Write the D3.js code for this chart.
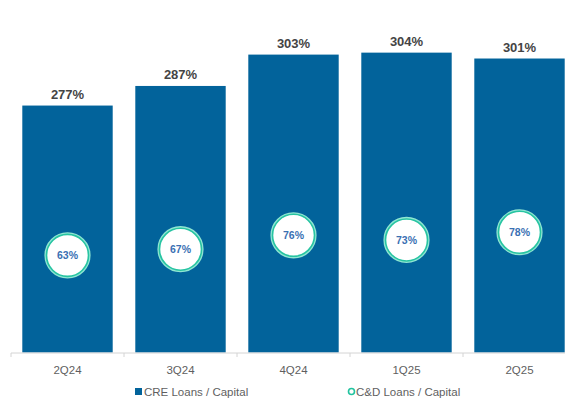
<!DOCTYPE html>
<html>
<head>
<meta charset="utf-8">
<script src="https://cdn.jsdelivr.net/npm/d3@7"></script>
<style>
  html, body { margin: 0; padding: 0; background: #ffffff; }
  svg { display: block; }
</style>
</head>
<body>
<svg id="chart" width="565" height="402"></svg>
<script>
// Quarterly concentration ratios
const quarters = ["2Q24", "3Q24", "4Q24", "1Q25", "2Q25"];
const creToCapital = [277, 287, 303, 304, 301];   // bars, left axis
const cdToCapital = [63, 67, 76, 73, 78];         // circles, right axis
const legendLabels = ["CRE Loans / Capital", "C&D Loans / Capital"];

const W = 565, H = 402;
const baseY = 352.5, topY = 5.6;
const svg = d3.select("#chart");

const x = d3.scaleBand()
  .domain(quarters)
  .range([11, 576])
  .paddingInner(0.2)
  .paddingOuter(0.1);

// left axis is truncated near 150%
const y = d3.scaleLinear().domain([151, 328]).range([baseY, topY]);
// secondary axis for the C&D ratio
const y2 = d3.scaleLinear().domain([0, 225]).range([baseY, topY]);

const defs = svg.append("defs");
const glow = defs.append("filter").attr("id", "ringGlow")
  .attr("x", "-30%").attr("y", "-30%").attr("width", "160%").attr("height", "160%");
glow.append("feGaussianBlur").attr("stdDeviation", 0.7);

// bars
svg.append("g").selectAll("rect")
  .data(quarters)
  .join("rect")
  .attr("x", d => x(d))
  .attr("width", x.bandwidth())
  .attr("y", (d, i) => y(creToCapital[i]))
  .attr("height", (d, i) => baseY - y(creToCapital[i]))
  .attr("fill", "#02639b");

// value labels above bars
svg.append("g").selectAll("text")
  .data(quarters)
  .join("text")
  .attr("x", d => x(d) + x.bandwidth() / 2)
  .attr("y", (d, i) => y(creToCapital[i]) - 6.5)
  .attr("text-anchor", "middle")
  .attr("font-family", "'Liberation Sans', Arial, sans-serif")
  .attr("font-weight", "bold")
  .attr("font-size", "13px")
  .attr("fill", "#444444")
  .text((d, i) => creToCapital[i] + "%");

// category axis
const axis = svg.append("g").attr("transform", `translate(0,${baseY})`);
axis.append("line")
  .attr("x1", 11).attr("x2", W)
  .attr("y1", 0.5).attr("y2", 0.5)
  .attr("stroke", "#d4d4d4").attr("stroke-width", 1);
const bounds = quarters.map(q => x(q) - x.step() * x.paddingInner() / 2);
axis.selectAll("line.tick")
  .data(bounds)
  .join("line")
  .attr("class", "tick")
  .attr("x1", d => d).attr("x2", d => d)
  .attr("y1", 0.5).attr("y2", 4.5)
  .attr("stroke", "#d4d4d4");
axis.selectAll("text")
  .data(quarters)
  .join("text")
  .attr("x", d => x(d) + x.bandwidth() / 2)
  .attr("y", 21)
  .attr("text-anchor", "middle")
  .attr("font-family", "'Liberation Sans', Arial, sans-serif")
  .attr("font-size", "11.5px")
  .attr("fill", "#5f5f5f")
  .text(d => d);

// C&D ratio markers
const marks = svg.append("g").selectAll("g")
  .data(quarters)
  .join("g")
  .attr("transform", (d, i) => `translate(${x(d) + x.bandwidth() / 2},${y2(cdToCapital[i])})`);
marks.append("circle")
  .attr("r", 21.8)
  .attr("fill", "none")
  .attr("stroke", "#8fe6d2")
  .attr("stroke-width", 2.6)
  .attr("filter", "url(#ringGlow)");
marks.append("circle")
  .attr("r", 21)
  .attr("fill", "#ffffff")
  .attr("stroke", "#27c4a2")
  .attr("stroke-width", 1.6);
marks.append("text")
  .attr("y", 3.6)
  .attr("text-anchor", "middle")
  .attr("font-family", "'Liberation Sans', Arial, sans-serif")
  .attr("font-weight", "bold")
  .attr("font-size", "10.5px")
  .attr("fill", "#3a70b3")
  .text((d, i) => cdToCapital[i] + "%");

// legend
const legend = svg.append("g").attr("font-family", "'Liberation Sans', Arial, sans-serif")
  .attr("font-size", "11.5px").attr("fill", "#5f5f5f");
legend.append("rect")
  .attr("x", 135).attr("y", 388).attr("width", 7).attr("height", 7)
  .attr("fill", "#02639b");
legend.append("text").attr("x", 144).attr("y", 396).text(legendLabels[0]);
legend.append("circle")
  .attr("cx", 351.5).attr("cy", 391.5).attr("r", 3)
  .attr("fill", "#ffffff").attr("stroke", "#22c39f").attr("stroke-width", 1.6);
legend.append("text").attr("x", 356).attr("y", 396).text(legendLabels[1]);
</script>
</body>
</html>
